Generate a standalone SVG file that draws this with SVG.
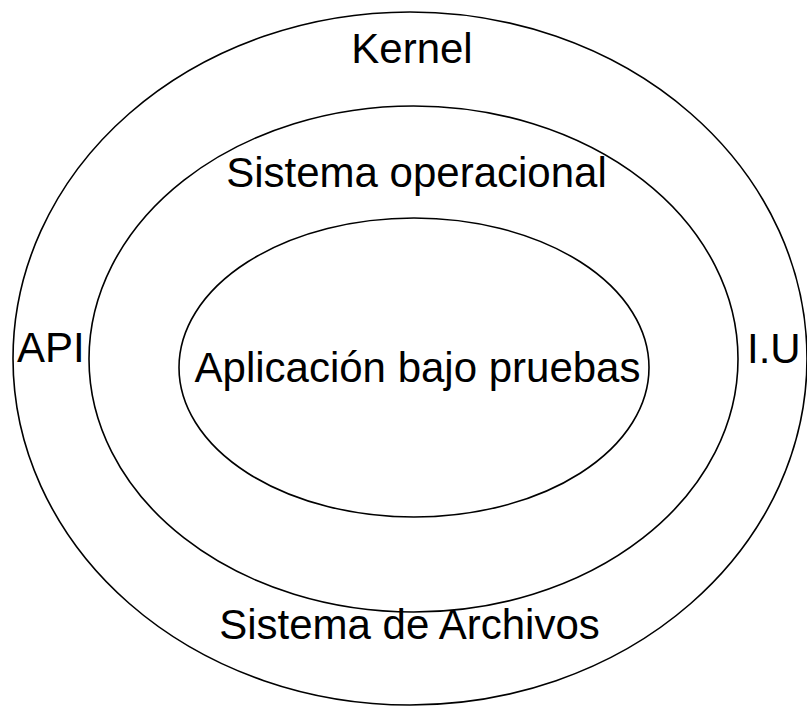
<svg xmlns="http://www.w3.org/2000/svg" width="807" height="706" viewBox="0 0 807 706">
<style>
.ring{fill:none;stroke:#000;stroke-width:1.6}
.lbl{font-family:"Liberation Sans",Arial,sans-serif;font-size:42px;fill:#000}
</style>
<rect width="807" height="706" fill="#fff"/>
<g id="outer">
<ellipse class="ring" cx="410" cy="358.5" rx="397" ry="346.5"/>
<text class="lbl" x="412" y="63" text-anchor="middle">Kernel</text>
<text class="lbl" x="17" y="362">API</text>
<text class="lbl" x="747" y="363">I.U</text>
<text class="lbl" x="409.5" y="639" text-anchor="middle">Sistema de Archivos</text>
</g>
<g id="middle">
<ellipse class="ring" cx="413.5" cy="359" rx="324.5" ry="253"/>
<text class="lbl" x="416.5" y="187" text-anchor="middle">Sistema operacional</text>
</g>
<g id="inner">
<ellipse class="ring" cx="414" cy="367.5" rx="235" ry="149.5"/>
<text class="lbl" x="417.5" y="382" text-anchor="middle">Aplicación bajo pruebas</text>
</g>
<g id="connectors"/>
</svg>
